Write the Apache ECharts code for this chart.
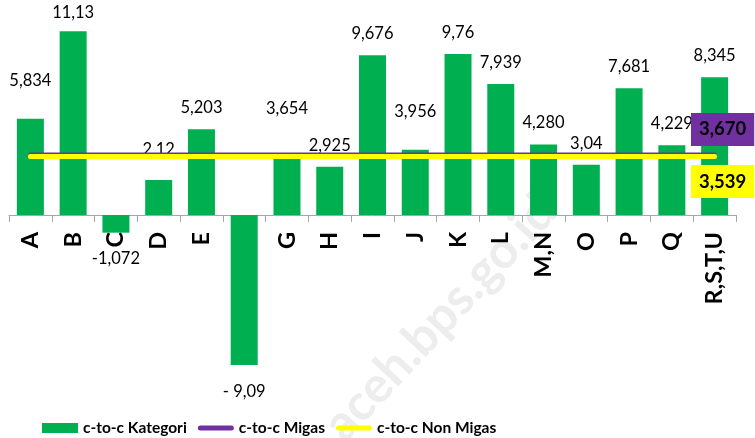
<!DOCTYPE html>
<html>
<head>
<meta charset="utf-8">
<script src="https://cdn.jsdelivr.net/npm/echarts@6/dist/echarts.min.js"></script>
<style>
  html, body { margin: 0; padding: 0; background: #fff; }
  #main { width: 755px; height: 438px; }
</style>
</head>
<body>
<div id="main"></div>
<script>
// data
var categories = ['A', 'B', 'C', 'D', 'E', 'F', 'G', 'H', 'I', 'J', 'K', 'L', 'M,N', 'O', 'P', 'Q', 'R,S,T,U'];
var kategoriValues = [5.834, 11.13, -1.072, 2.12, 5.203, -9.09, 3.654, 2.925, 9.676, 3.956, 9.76, 7.939, 4.280, 3.04, 7.681, 4.229, 8.345];
var barLabels = ['5,834', '11,13', '-1,072', '2,12', '5,203', '- 9,09', '3,654', '2,925', '9,676', '3,956', '9,76', '7,939', '4,280', '3,04', '7,681', '4,229', '8,345'];
var migasValue = 3.670;
var nonMigasValue = 3.539;
var migasText = '3,670';
var nonMigasText = '3,539';

// the Excel labels were dragged by hand a bit; extra lift per category
var labelNudge = { 'A': 17, 'B': -3, 'C': 4, 'D': 9, 'F': 5, 'G': 25, 'J': 17 };

var lineIcon = 'path://M2.5,0H33.5A2.5,2.5,0,0,1,33.5,5H2.5A2.5,2.5,0,0,1,2.5,0Z';
var font = 'Lato';

var myChart = echarts.init(document.getElementById('main'));

var barData = kategoriValues.map(function (v, i) {
    var lift = labelNudge[categories[i]] || 0;
    return {
        value: v,
        label: {
            position: v < 0 ? 'bottom' : 'top',
            distance: 13 + lift,
            formatter: barLabels[i]
        }
    };
});

var migasData = categories.map(function () { return migasValue; });
var nonMigasData = categories.map(function () { return nonMigasValue; });

var boxLabel = {
    show: true,
    align: 'center',
    verticalAlign: 'middle',
    distance: 0,
    padding: [7, 8],
    fontSize: 18.5,
    fontWeight: 'bold',
    fontFamily: font,
    color: '#000'
};

var option = {
    animation: false,
    backgroundColor: '#fff',
    textStyle: { fontFamily: font },
    graphic: [{
        type: 'text',
        x: 440,
        y: 318,
        rotation: 47 * Math.PI / 180,
        z: -10,
        silent: true,
        style: {
            text: 'aceh.bps.go.id',
            font: 'bold 50px Lato',
            fill: '#ededed',
            align: 'center',
            verticalAlign: 'middle'
        }
    }],
    grid: [
        // plot area: -10 .. 12, zero line lands at y = 215
        { left: 9, right: 19, top: 17, bottom: 58, outerBoundsMode: 'none' },
        // upper half only, its bottom edge is the zero line -> carries the category labels
        { left: 9, right: 19, top: 17, bottom: 223, outerBoundsMode: 'none' }
    ],
    legend: {
        left: 42,
        top: 420,
        padding: 0,
        itemWidth: 36,
        itemHeight: 10,
        itemGap: 11,
        textStyle: { fontSize: 15.5, fontWeight: 'bold', color: '#000', fontFamily: font },
        data: [
            { name: 'c-to-c Kategori', icon: 'rect' },
            { name: 'c-to-c Migas', icon: lineIcon },
            { name: 'c-to-c Non Migas', icon: lineIcon }
        ]
    },
    xAxis: [
        {
            type: 'category',
            gridIndex: 0,
            data: categories,
            axisLine: { show: false },
            axisTick: { show: false },
            axisLabel: { show: false }
        },
        {
            type: 'category',
            gridIndex: 1,
            data: categories,
            axisLine: { onZero: false, lineStyle: { color: '#a6a6a6', width: 1 } },
            axisTick: { show: true, length: 7, lineStyle: { color: '#a6a6a6' } },
            axisLabel: {
                interval: 0,
                rotate: 90,
                margin: 17,
                fontSize: 23.5,
                fontWeight: 'bold',
                color: '#000',
                fontFamily: font
            }
        }
    ],
    yAxis: [
        { type: 'value', gridIndex: 0, min: -10, max: 12, show: false, splitLine: { show: false } },
        { type: 'value', gridIndex: 1, min: 0, max: 1, show: false, splitLine: { show: false } }
    ],
    series: [
        {
            name: 'c-to-c Kategori',
            type: 'bar',
            barWidth: 27,
            itemStyle: { color: '#00b050' },
            label: {
                show: true,
                fontSize: 16.5,
                color: '#000',
                fontFamily: font
            },
            data: barData
        },
        {
            name: 'c-to-c Migas',
            type: 'line',
            symbol: 'none',
            color: '#7030a0',
            lineStyle: { color: '#7030a0', width: 4, cap: 'round' },
            endLabel: Object.assign({}, boxLabel, {
                formatter: migasText,
                offset: [8, -25],
                backgroundColor: '#7030a0'
            }),
            data: migasData
        },
        {
            name: 'c-to-c Non Migas',
            type: 'line',
            symbol: 'none',
            color: '#ffff00',
            lineStyle: { color: '#ffff00', width: 5, cap: 'round' },
            endLabel: Object.assign({}, boxLabel, {
                formatter: nonMigasText,
                offset: [8, 25],
                backgroundColor: '#ffff00'
            }),
            data: nonMigasData
        }
    ]
};

myChart.setOption(option);
</script>
</body>
</html>
